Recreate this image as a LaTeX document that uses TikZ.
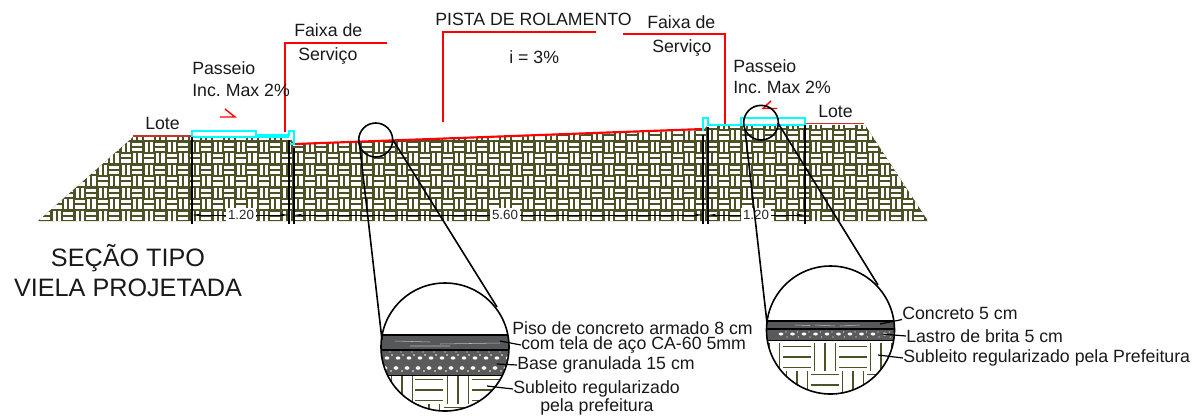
\documentclass[tikz,border=0pt]{standalone}
\usepackage{fontspec}
\usetikzlibrary{arrows.meta}
\setmainfont{Liberation Sans}
\definecolor{olive}{HTML}{4C5226}
\definecolor{lotered}{HTML}{C8322A}
\definecolor{bandgray}{HTML}{55575A}
\definecolor{gravelgray}{HTML}{5A5A5A}
\definecolor{kerbcyan}{RGB}{0,255,255}
\definecolor{pure}{RGB}{255,0,0}
\tikzset{
 lbl/.style={font=\fontsize{13.3pt}{15pt}\selectfont,anchor=west,inner sep=0pt,text=black!90},
 dimlbl/.style={font=\fontsize{10pt}{12pt}\selectfont,fill=white,inner sep=1.5pt,text=black!85},
 title/.style={font=\fontsize{18.9pt}{22pt}\selectfont,inner sep=0pt,text=black!90},
 redline/.style={draw=pure,line width=1.3pt},
 kerb/.style={draw=kerbcyan,line width=0.9pt},
 blackline/.style={draw=black,line width=1.1pt},
 leader/.style={draw=black,line width=0.9pt},
 dimline/.style={draw=black,line width=0.6pt},
 loupe/.style={draw=black,line width=1.2pt},
 weave/.style={draw=olive,line width=1pt}
}
\begin{document}
\frenchspacing
\begin{tikzpicture}[x=0.75pt,y=-0.75pt]
\useasboundingbox (0,0) rectangle (1193,415);
% soil hatching
\begin{scope}
\clip (133,137) -- (290,137) -- (294,144.5) -- (703,130) -- (708,125) -- (865,125) -- (928,221) -- (38,221) -- cycle;
\fill[olive] (30,120) rectangle (935,225);
\foreach \i in {-16,...,62}{
 \foreach \j in {-2,...,7}{
  \ifodd\numexpr\i+\j+100\relax
   \fill[white] ({212+11.5*\i+0.8},{141+11.5*\j+1.5}) rectangle ++(9.9,3.2);
   \fill[white] ({212+11.5*\i+0.8},{141+11.5*\j+6.8}) rectangle ++(9.9,3.2);
  \else
   \fill[white] ({212+11.5*\i+1.5},{141+11.5*\j+0.8}) rectangle ++(3.2,9.9);
   \fill[white] ({212+11.5*\i+6.8},{141+11.5*\j+0.8}) rectangle ++(3.2,9.9);
  \fi
 }
}
\end{scope}
% surface lines
\coordinate (roadA) at (295,144);
\coordinate (roadB) at (703,129);
\draw[pure,line width=1.6pt] (roadA) -- (roadB);
\draw[draw=lotered,line width=1.3pt] (133,136) -- (191,136);
\draw[draw=lotered,line width=1.3pt] (806,123.5) -- (864,123.5);
\draw[kerb] (192,137) -- (192,131) -- (256,131) -- (256,135) -- (289,135) -- (289,131) -- (294,131) -- (294,144) -- (290,144);
\draw[kerb] (192,137) -- (289,137);
\draw[kerb] (703,131) -- (703,118) -- (708,118) -- (708,125) -- (741,125) -- (741,118) -- (805,118) -- (805,125) -- (708,125);
% verticals
\foreach \xa/\ya in {192/137,289/140,294/148,703/135,708/127,805/125}{
 \draw[blackline] (\xa,\ya) -- (\xa,224);
}
% dimensions
\node[dimlbl] (dimA) at (241,215) {1.20};
\node[dimlbl] (dimB) at (505,215) {5.60};
\node[dimlbl] (dimC) at (756,215) {1.20};
\coordinate (d1) at (192,215); \coordinate (d2) at (289,215);
\coordinate (d3) at (294,215); \coordinate (d4) at (703,215);
\coordinate (d5) at (708,215); \coordinate (d6) at (805,215);
\draw[dimline,-{Stealth[length=7pt,width=2pt]}] (dimA) -- (d1);
\draw[dimline,-{Stealth[length=7pt,width=2pt]}] (dimA) -- (d2);
\draw[dimline,-{Stealth[length=7pt,width=2pt]}] (dimB) -- (d3);
\draw[dimline,-{Stealth[length=7pt,width=2pt]}] (dimB) -- (d4);
\draw[dimline,-{Stealth[length=7pt,width=2pt]}] (dimC) -- (d5);
\draw[dimline,-{Stealth[length=7pt,width=2pt]}] (dimC) -- (d6);
% red callouts
\draw[redline] (285,132) -- (285,43) -- (387,43);
\draw[redline] (443,122) -- (443,32) -- (596,32);
\draw[redline] (623,34) -- (725,34) -- (725,124);
\draw[pure,line width=1.1pt] (220,117) -- (235,117) -- (225,109);
\draw[pure,line width=1.1pt] (777,108.5) -- (763,108.5) -- (771,101);
% loupes
\node[circle,draw=black,line width=1.2pt,minimum size=25.5pt,inner sep=0pt] (smallA) at (375.7,140) {};
\node[circle,draw=black,line width=1.2pt,minimum size=26pt,inner sep=0pt] (smallB) at (761,122.7) {};
\coordinate (bigA) at (445,347);
\coordinate (bigB) at (830.5,330);
% big circle A
\begin{scope}
\clip (bigA) circle[radius=64];
\foreach \cx/\cy/\k in {402/390/v,458/390/v,514/390/v,429/390/h,486/390/h,374/390/h,429/418/v,486/418/v,402/418/h,458/418/h}{
 \if\k v
  \foreach \o in {-10.5,0,10.5}{\draw[weave] (\cx+\o,\cy-14) -- (\cx+\o,\cy+14);}
 \else
  \foreach \o in {-10.5,0,10.5}{\draw[weave] (\cx-14,\cy+\o) -- (\cx+14,\cy+\o);}
 \fi
}
\fill[gravelgray] (375,350) rectangle (515,375);
\foreach \n in {0,...,11}{
 \fill[white] (387+11*\n,358) ellipse[x radius=2.4,y radius=1.6];
 \fill[white] (392+11*\n,355) circle[radius=.9];
 \fill[white] (385+11*\n,368) ellipse[x radius=2.4,y radius=1.8];
 \fill[white] (391+11*\n,371) circle[radius=.9];
 \fill[white] (390+11*\n,352) circle[radius=.6];
}
\fill[bandgray] (375,335) rectangle (515,350);
\draw[white!60!bandgray,line width=.4pt] (395,341) -- (430,342) (440,344) -- (500,343) (410,346) -- (450,346);
\draw[black,line width=1.1pt] (375,335) -- (515,335) (375,350) -- (515,350);
\draw[black,line width=.9pt] (375,375.5) -- (515,375.5);
\end{scope}
\draw[loupe] (bigA) circle[radius=64];
% big circle B
\begin{scope}
\clip (bigB) circle[radius=64];
\foreach \cx/\cy/\k in {769/357/v,825/357/v,881/357/v,797/357/h,853/357/h,797/385/v,853/385/v,769/385/h,825/385/h,881/385/h}{
 \if\k v
  \foreach \o in {-10.5,0,10.5}{\draw[weave] (\cx+\o,\cy-14) -- (\cx+\o,\cy+14);}
 \else
  \foreach \o in {-10.5,0,10.5}{\draw[weave] (\cx-14,\cy+\o) -- (\cx+14,\cy+\o);}
 \fi
}
\fill[gravelgray] (760,329) rectangle (900,340);
\foreach \n in {0,...,11}{
 \fill[white] (781+11.5*\n,334) ellipse[x radius=2.4,y radius=1.5];
 \fill[white] (787+11.5*\n,337) circle[radius=.7];
 \fill[white] (786+11.5*\n,332) circle[radius=.6];
}
\fill[bandgray] (760,321) rectangle (900,329);
\draw[white!60!bandgray,line width=.4pt] (795,325) -- (810,325.5) (815,325) -- (835,326) (840,326) -- (860,325);
\draw[black,line width=1.1pt] (760,321) -- (900,321) (760,329) -- (900,329) (760,340.5) -- (900,340.5);
\end{scope}
\draw[loupe] (bigB) circle[radius=64];
% tangent lines
\coordinate (tA1) at (359,140); \coordinate (tA2) at (382,340);
\coordinate (tA3) at (393,140); \coordinate (tA4) at (497,307);
\coordinate (tB1) at (745,130); \coordinate (tB2) at (767,323);
\coordinate (tB3) at (778,123); \coordinate (tB4) at (878,285);
\draw[loupe] (tA1) -- (tA2) (tA3) -- (tA4) (tB1) -- (tB2) (tB3) -- (tB4);
% texts
\node[lbl] (faixaA) at (294,30) {Faixa de};
\node[lbl] (servA) at (298,56) {Serviço};
\node[lbl] (pista) at (435,19) {PISTA DE ROLAMENTO};
\node[lbl] (incl) at (509,57) {i = 3\%};
\node[lbl] (faixaB) at (647,22) {Faixa de};
\node[lbl] (servB) at (652,48) {Serviço};
\node[lbl] (passA) at (192,68) {Passeio};
\node[lbl] (incA) at (192,90) {Inc. Max 2\%};
\node[lbl] (passB) at (733,66) {Passeio};
\node[lbl] (incB) at (733,87) {Inc. Max 2\%};
\node[lbl] (loteA) at (145,123) {Lote};
\node[lbl] (loteB) at (818,111) {Lote};
\node[title] (sec1) at (128,258) {SEÇÃO TIPO};
\node[title] (sec2) at (128,288) {VIELA PROJETADA};
\node[lbl] (pisoA) at (512,328) {Piso de concreto armado 8 cm};
\node[lbl] (pisoB) at (521,345) {com tela de aço CA-60 5mm};
\node[lbl] (baseT) at (517,365) {Base granulada 15 cm};
\node[lbl] (subA) at (513,389) {Subleito regularizado};
\node[lbl] (subA2) at (540,407) {pela prefeitura};
\node[lbl] (conc) at (902,313) {Concreto 5 cm};
\node[lbl] (lastro) at (906,336) {Lastro de brita 5 cm};
\node[lbl] (subB) at (903,358) {Subleito regularizado pela Prefeitura};
% leaders
\coordinate (lA1) at (500,341); \coordinate (lA2) at (497,364); \coordinate (lA3) at (487,386);
\coordinate (lB1) at (880,324); \coordinate (lB2) at (882,334); \coordinate (lB3) at (878,355);
\draw[leader] (lA1) -- (pisoB.west);
\draw[leader] (lA2) -- (baseT.west);
\draw[leader] (lA3) -- (subA.west);
\draw[leader] (lB1) -- (conc.south west);
\draw[leader] (lB2) -- (lastro.west);
\draw[leader] (lB3) -- (subB.west);
\end{tikzpicture}
\end{document}
